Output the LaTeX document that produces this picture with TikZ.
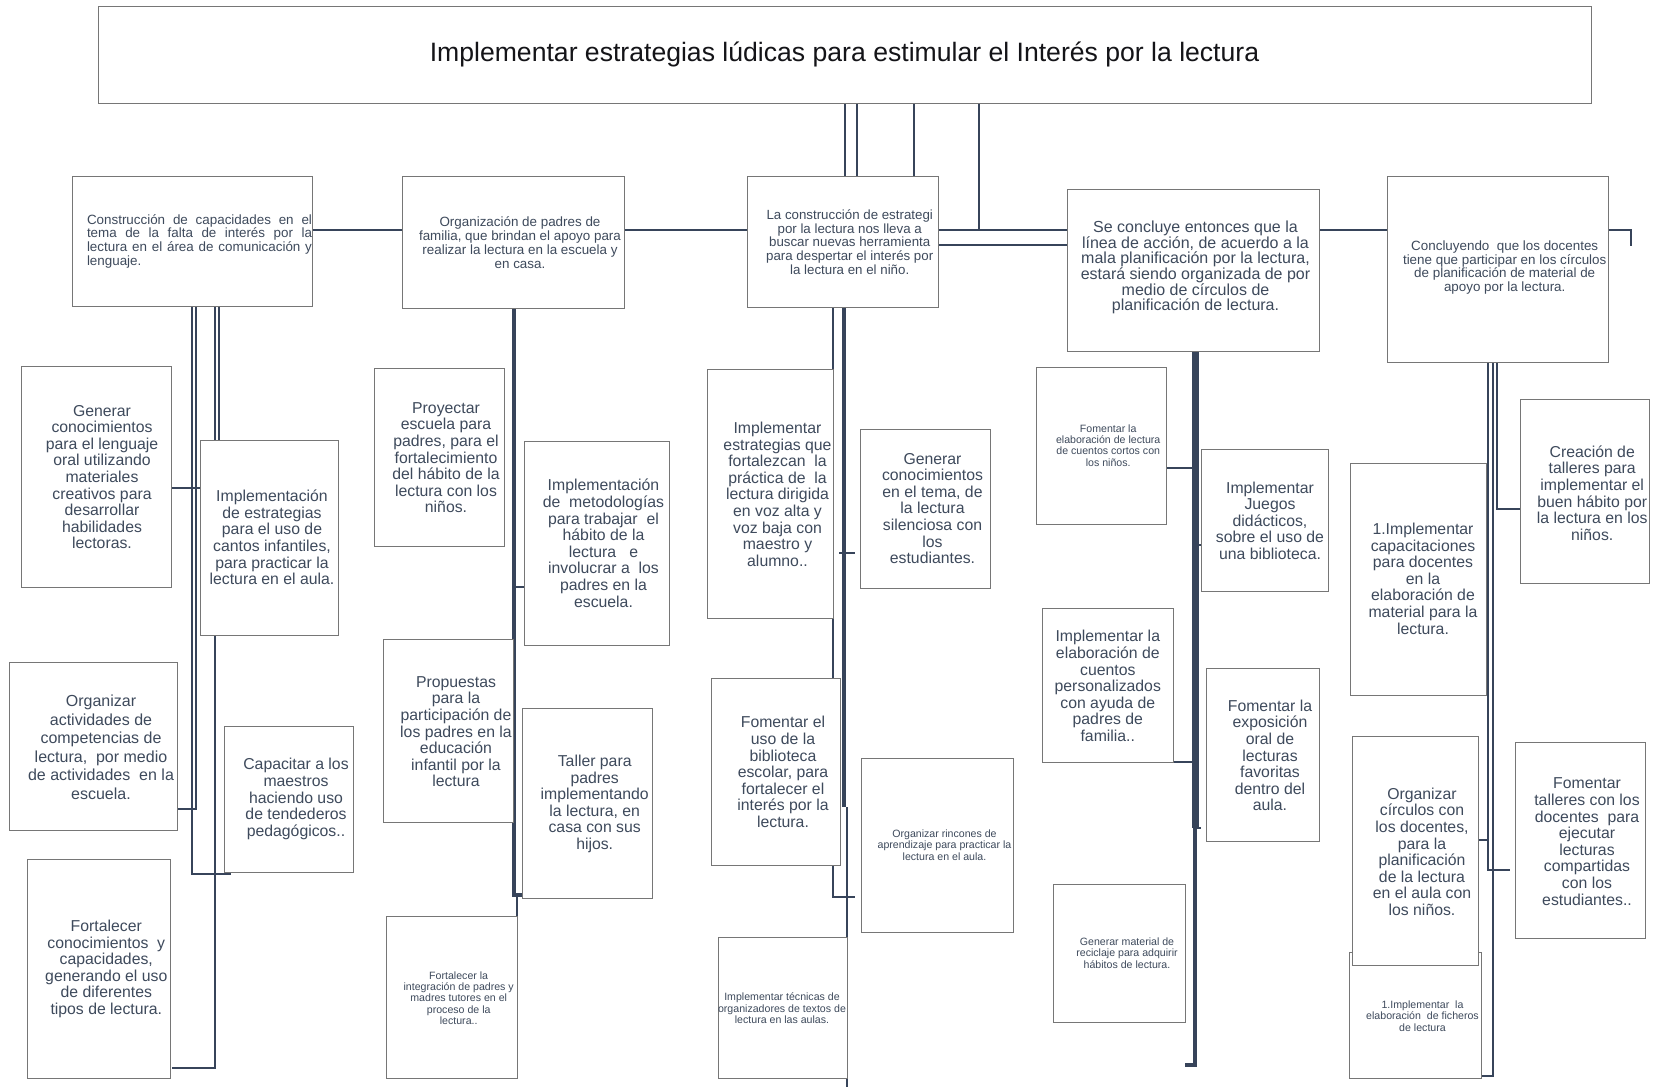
\documentclass[tikz,border=0pt]{standalone}
\usepackage{fontspec}
\setmainfont{Liberation Sans}
\usetikzlibrary{calc,backgrounds}
\definecolor{tcol}{RGB}{62,74,92}
\definecolor{ttl}{RGB}{20,20,24}
\definecolor{boxc}{RGB}{118,118,118}
\definecolor{linec}{RGB}{55,68,90}
\begin{document}
\begin{tikzpicture}[x=1pt,y=-1pt,
  box/.style={draw=boxc, line width=1pt, fill=white, inner sep=0pt, outer sep=0pt, anchor=north west},
  tx/.style={text=tcol, align=center, inner sep=0pt},
  big/.style={tx, font=\fontsize{15.8}{16.6}\selectfont},
  sml/.style={tx, font=\fontsize{10.6}{11.3}\selectfont},
  med/.style={tx, font=\fontsize{13.4}{13.8}\selectfont},
  conn/.style={draw=linec, line width=2.5pt}]
\useasboundingbox (0,0) rectangle (1654,1087);

% ---------- boxes ----------
\node[box, minimum width=1493pt, minimum height=97pt] (T) at (98,6) {};
\node[box, minimum width=240pt, minimum height=130pt] (b1) at (72,176) {};
\node[box, minimum width=222pt, minimum height=132pt] (b2) at (402,176) {};
\node[box, minimum width=191pt, minimum height=131pt] (b3) at (747,176) {};
\node[box, minimum width=252pt, minimum height=162pt] (b4) at (1067,189) {};
\node[box, minimum width=221pt, minimum height=186pt] (b5) at (1387,176) {};

\node[box, minimum width=150pt, minimum height=221pt] (c1a) at (21,366) {};
\node[box, minimum width=138pt, minimum height=195pt] (c1b) at (200,440) {};
\node[box, minimum width=168pt, minimum height=168pt] (c1c) at (9,662) {};
\node[box, minimum width=129pt, minimum height=146pt] (c1d) at (224,726) {};
\node[box, minimum width=143pt, minimum height=219pt] (c1e) at (27,859) {};

\node[box, minimum width=130pt, minimum height=178pt] (c2a) at (374,368) {};
\node[box, minimum width=145pt, minimum height=204pt] (c2b) at (524,441) {};
\node[box, minimum width=130pt, minimum height=183pt] (c2c) at (383,639) {};
\node[box, minimum width=130pt, minimum height=190pt] (c2d) at (522,708) {};
\node[box, minimum width=131pt, minimum height=162pt] (c2e) at (386,916) {};

\node[box, minimum width=126pt, minimum height=249pt] (c3a) at (707,369) {};
\node[box, minimum width=130pt, minimum height=159pt] (c3b) at (860,429) {};
\node[box, minimum width=129pt, minimum height=187pt] (c3c) at (711,678) {};
\node[box, minimum width=152pt, minimum height=174pt] (c3d) at (861,758) {};
\node[box, minimum width=129pt, minimum height=141pt] (c3e) at (718,937) {};

\node[box, minimum width=130pt, minimum height=157pt] (c4a) at (1036,367) {};
\node[box, minimum width=127pt, minimum height=142pt] (c4b) at (1201,449) {};
\node[box, minimum width=131pt, minimum height=154pt] (c4c) at (1042,608) {};
\node[box, minimum width=113pt, minimum height=173pt] (c4d) at (1206,668) {};
\node[box, minimum width=132pt, minimum height=138pt] (c4e) at (1053,884) {};

\node[box, minimum width=129pt, minimum height=184pt] (c5a) at (1520,399) {};
\node[box, minimum width=136pt, minimum height=232pt] (c5b) at (1350,463) {};
\node[box, minimum width=132pt, minimum height=126pt] (c5e) at (1349,952) {};
\node[box, minimum width=126pt, minimum height=229pt] (c5c) at (1352,736) {};
\node[box, minimum width=130pt, minimum height=196pt] (c5d) at (1515,742) {};

% ---------- texts ----------
\node[tx, text=ttl, font=\fontsize{26.6}{30}\selectfont] (Tt) at (844.5,54.5) {Implementar estrategias lúdicas para estimular el Interés por la lectura};

\node[tx, align=justify, text width=225pt, font=\fontsize{13.4}{13.7}\selectfont] (b1t) at (199.5,241.2)
 {Construcción de capacidades en el\linebreak tema de la falta de interés por la\linebreak lectura en el área de comunicación y\linebreak lenguaje.};
\node[med] (b2t) at (520,242.7) {Organización de padres de\\familia, que brindan el apoyo para\\realizar la lectura en la escuela y\\en casa.};
\node[tx, font=\fontsize{13.3}{13.6}\selectfont] (b3t) at (849.7,242) {La construcción de estrategi\\por la lectura nos lleva a\\buscar nuevas herramienta\\para despertar el interés por\\la lectura en el niño.};
\node[tx, font=\fontsize{16}{14.9}\selectfont] (b4t) at (1195.5,267) {Se concluye entonces que la\\línea de acción, de acuerdo a la\\mala planificación por la lectura,\\estará siendo organizada de por\\medio de círculos de\\planificación de lectura.};
\node[tx, font=\fontsize{13.4}{12.2}\selectfont] (b5t) at (1504.7,267.5) {Concluyendo\ \ que los docentes\\tiene que participar en los círculos\\de planificación de material de\\apoyo por la lectura.};

\node[big] (c1at) at (102,477) {Generar\\conocimientos\\para el lenguaje\\oral utilizando\\materiales\\creativos para\\desarrollar\\habilidades\\lectoras.};
\node[big] (c1bt) at (272,537.5) {Implementación\\de estrategias\\para el uso de\\cantos infantiles,\\para practicar la\\lectura en el aula.};
\node[tx, font=\fontsize{16}{18.6}\selectfont] (c1ct) at (101,747.3) {Organizar\\actividades de\\competencias de\\lectura,\ \ por medio\\de actividades\ \ en la\\escuela.};
\node[big] (c1dt) at (296,799) {Capacitar a los\\maestros\\haciendo uso\\de tendederos\\pedagógicos..};
\node[big] (c1et) at (106.3,969) {Fortalecer\\conocimientos\ \ y\\capacidades,\\generando el uso\\de diferentes\\tipos de lectura.};

\node[big] (c2at) at (446,457.8) {Proyectar\\escuela para\\padres, para el\\fortalecimiento\\del hábito de la\\lectura con los\\niños.};
\node[big] (c2bt) at (603.5,543.3) {Implementación\\de\ \ metodologías\\para trabajar\ \ el\\hábito de la\\lectura\ \ \ e\\involucrar a\ \ los\\padres en la\\escuela.};
\node[big] (c2ct) at (456,731.7) {Propuestas\\para la\\participación de\\los padres en la\\educación\\infantil por la\\lectura};
\node[big] (c2dt) at (594.7,804) {Taller para\\padres\\implementando\\la lectura, en\\casa con sus\\hijos.};
\node[sml] (c2et) at (458.7,998) {Fortalecer la\\integración de padres y\\madres tutores en el\\proceso de la\\lectura..};

\node[big] (c3at) at (777.5,494.2) {Implementar\\estrategias que\\fortalezcan\ \ la\\práctica de\ \ la\\lectura dirigida\\en voz alta y\\voz baja con\\maestro y\\alumno..};
\node[big] (c3bt) at (932.5,508.5) {Generar\\conocimientos\\en el tema, de\\la lectura\\silenciosa con\\los\\estudiantes.};
\node[big] (c3ct) at (783,772) {Fomentar el\\uso de la\\biblioteca\\escolar, para\\fortalecer el\\interés por la\\lectura.};
\node[sml] (c3dt) at (944.5,845) {Organizar rincones de\\aprendizaje para practicar la\\lectura en el aula.};
\node[sml] (c3et) at (782,1008.3) {Implementar técnicas de\\organizadores de textos de\\lectura en las aulas.};

\node[sml] (c4at) at (1108.2,445.3) {Fomentar la\\elaboración de lectura\\de cuentos cortos con\\los niños.};
\node[big] (c4bt) at (1270,520.6) {Implementar\\Juegos\\didácticos,\\sobre el uso de\\una biblioteca.};
\node[big] (c4ct) at (1107.8,686) {Implementar la\\elaboración de\\cuentos\\personalizados\\con ayuda de\\padres de\\familia..};
\node[big] (c4dt) at (1270,755.5) {Fomentar la\\exposición\\oral de\\lecturas\\favoritas\\dentro del\\aula.};
\node[sml] (c4et) at (1127,953) {Generar material de\\reciclaje para adquirir\\hábitos de lectura.};

\node[big] (c5at) at (1592.2,493) {Creación de\\talleres para\\implementar el\\buen hábito por\\la lectura en los\\niños.};
\node[big] (c5bt) at (1423,578.6) {1.Implementar\\capacitaciones\\para docentes\\en la\\elaboración de\\material para la\\lectura.};
\node[big] (c5ct) at (1422,851.7) {Organizar\\círculos con\\los docentes,\\para la\\planificación\\de la lectura\\en el aula con\\los niños.};
\node[big] (c5dt) at (1587,841.7) {Fomentar\\talleres con los\\docentes\ \ para\\ejecutar\\lecturas\\compartidas\\con los\\estudiantes..};
\node[sml] (c5et) at (1422.5,1016) {1.Implementar\ \ la\\elaboración\ \ de ficheros\\de lectura};

% ---------- connectors ----------
\begin{pgfonlayer}{background}
\fill[white] (0,0) rectangle (1654,1087);
% from the title
\draw[conn] (845,0 |- T.south) -- (845,0 |- b3.north);
\draw[conn] (857,0 |- T.south) -- (857,0 |- b3.north);
\draw[conn] (914,0 |- T.south) -- (914,0 |- b3.north);
\draw[conn] ($(T.south west)+(881,0)$) -- ($(b3.north east)+(41,54)$);
% bus between the top boxes
\draw[conn] ($(b1.north east)+(0,54)$) -- ($(b2.north west)+(0,54)$);
\draw[conn] ($(b2.north east)+(0,54)$) -- ($(b3.north west)+(0,54)$);
\draw[conn] ($(b3.north east)+(0,54)$) -- ($(b4.north west)+(0,41)$);
\draw[conn] ($(b3.north east)+(0,69)$) -- ($(b4.north west)+(0,56)$);
\draw[conn] ($(b4.north east)+(0,41)$) -- ($(b5.north west)+(0,54)$);
\draw[conn] ($(b5.north east)+(0,54)$) -| ($(b5.north east)+(23,70)$);
% column 1
\draw[conn, line width=2pt] ($(b1.south west)+(120,0)$) |- ($(c1d.south west)+(7,2)$);
\draw[conn, line width=2pt] ($(b1.south west)+(124,0)$) |- ($(c1c.south east)+(1,-21)$);
\draw[conn, line width=2.2pt] ($(b1.south west)+(143,0)$) |- ($(c1e.south east)+(2,-10)$);
\draw[conn, line width=2.2pt] ($(b1.south west)+(147,0)$) -- ++(0,134);
\draw[conn] ($(c1a.east)+(0,11.5)$) -- ++(29,0);
% column 2
\draw[conn, line width=4.5pt] ($(b2.south)+(1,0)$) |- ($(c2d.south west)+(0,-3)$);
\draw[conn] ($(c2d.south west)+(-5,-3)$) -- (c2e.south east);
\draw[conn] ($(b2.south)+(1,279)$) -- ($(c2b.west)+(0,44)$);
% column 3
\draw[conn] ($(b3.south west)+(86,0)$) |- ($(c3d.west)+(-6,52)$);
\draw[conn, line width=4pt] ($(b3.south west)+(97,0)$) -- ++(0,500);
\draw[conn] ($(b3.south west)+(100,500)$) -- ++(0,280);
\draw[conn] ($(b3.south west)+(92,246)$) -- ($(c3b.west)+(-5,44.5)$);
% column 4
\draw[conn, line width=7pt] ($(b4.south)+(2,0)$) -- ++(0,477);
\draw[conn] ($(b4.south)+(2,477)$) -- ++(6,0);
\draw[conn, line width=3.5pt] ($(b4.south)+(2,477)$) |- ($(c4e.south east)+(0,43)$);
\draw[conn] ($(c4a.east)+(0,22.5)$) -- ++(29,0);
\draw[conn] (c4c.south east) -- ++(22,0);
\draw[conn] ($(c4b.west)+(-6,25)$) -- ++(6,0);
% column 5
\draw[conn] ($(b5.south west)+(101,0)$) |- ($(c5c.east)+(0,-10.5)$);
\draw[conn] ($(c5c.east)+(10,-10.5)$) |- ($(c5d.west)+(-5,30)$);
\draw[conn] ($(b5.south west)+(106,0)$) |- ($(c5e.south east)+(0,-2)$);
\draw[conn] ($(b5.south west)+(110,0)$) |- ($(c5a.west)+(0,18)$);
\end{pgfonlayer}
\end{tikzpicture}
\end{document}
